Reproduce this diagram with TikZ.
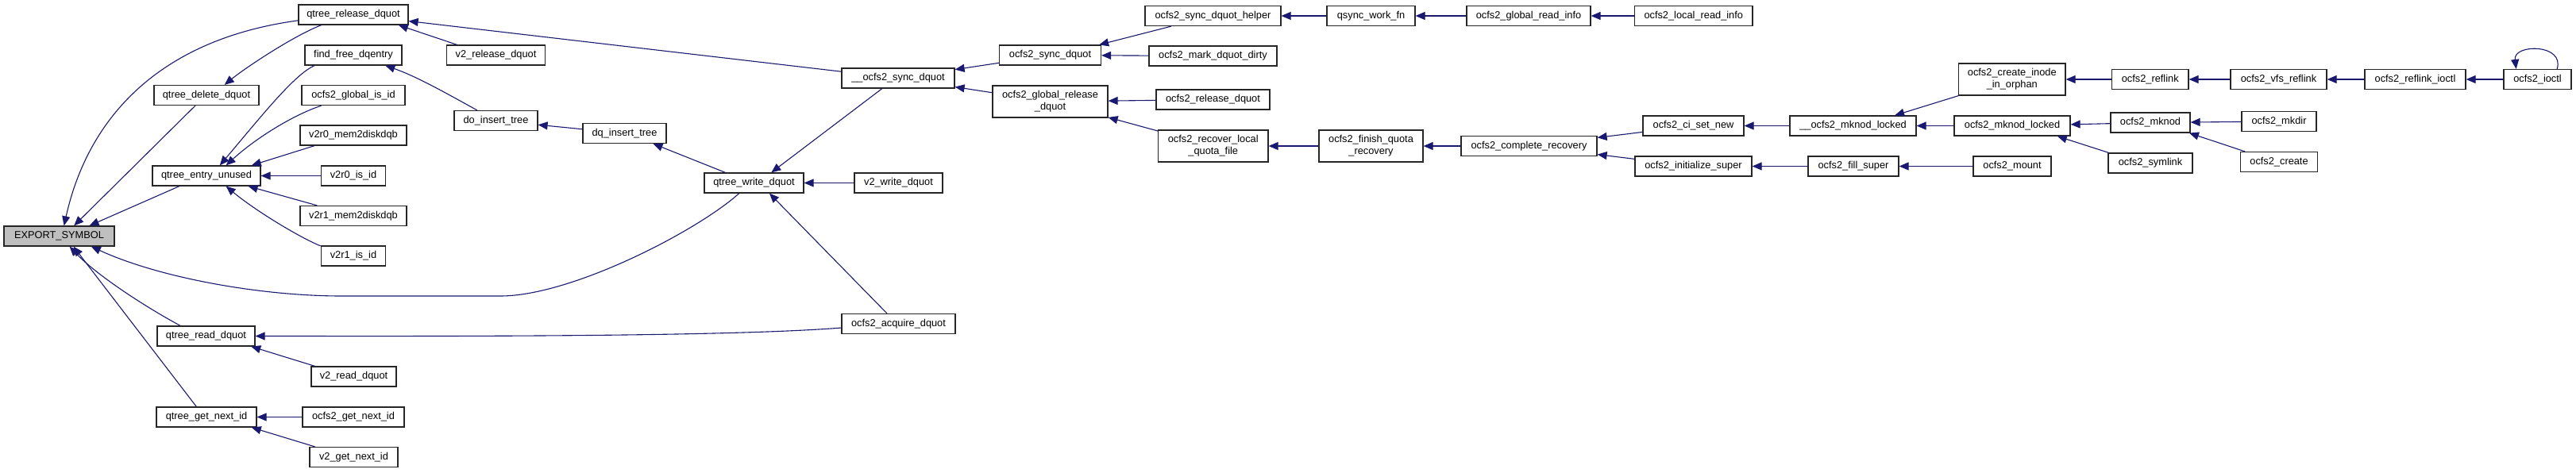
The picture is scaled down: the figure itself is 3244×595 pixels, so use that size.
\documentclass[tikz,border=0pt]{standalone}
\usepackage{fontspec}
\setmainfont{Liberation Sans}
\usetikzlibrary{arrows.meta}
\definecolor{edgeblue}{RGB}{25, 25, 112}
\definecolor{rootfill}{RGB}{191, 191, 191}
\newcommand{\fnfont}{\fontsize{12.8}{15}\selectfont}

\begin{document}
\begin{tikzpicture}[x=1pt, y=-1pt, >={Triangle[length=12pt,width=10pt]},
  fn/.style={draw=black!85, fill=white, line width=1.2pt, inner sep=0pt,
             minimum height=25pt, align=center, font=\fnfont},
  fn2/.style={fn, minimum height=40pt},
  callarr/.style={->, draw=edgeblue, line width=1.1pt},
]
\useasboundingbox (0,0) rectangle (3244,595);

% ── root ─────────────────────────────────────────────────────
\node[fn, fill=rootfill, minimum width=139pt] (expsym) at (74.5,297.5) {EXPORT\_SYMBOL};

% ── qtree_* callers ──────────────────────────────────────────
\node[fn, minimum width=138pt] (qrel)    at (445,18.5)   {qtree\_release\_dquot};
\node[fn, minimum width=132pt] (qdel)    at (260,120)    {qtree\_delete\_dquot};
\node[fn, minimum width=136pt] (qunused) at (260,221.5)  {qtree\_entry\_unused};
\node[fn, minimum width=123pt] (qread)   at (259.5,423.5){qtree\_read\_dquot};
\node[fn, minimum width=126pt] (qnext)   at (260,525.5)  {qtree\_get\_next\_id};

% ── second column ────────────────────────────────────────────
\node[fn, minimum width=122pt]  (findfree) at (445,69.5)   {find\_free\_dqentry};
\node[fn, minimum width=130pt]  (globisid) at (445,120)    {ocfs2\_global\_is\_id};
\node[fn, minimum width=134pt]  (rzmem)    at (445,170.5)  {v2r0\_mem2diskdqb};
\node[fn, minimum width=81.5pt] (rzisid)   at (445,221.5)  {v2r0\_is\_id};
\node[fn, minimum width=134pt]  (romem)    at (445,272)    {v2r1\_mem2diskdqb};
\node[fn, minimum width=81.5pt] (roisid)   at (445,322.5)  {v2r1\_is\_id};
\node[fn, minimum width=107pt]  (vread)    at (445.5,474.5){v2\_read\_dquot};
\node[fn, minimum width=128pt]  (onext)    at (445,525.5)  {ocfs2\_get\_next\_id};
\node[fn, minimum width=111pt]  (vnext)    at (445.5,576)  {v2\_get\_next\_id};

% ── tree insertion / write path ──────────────────────────────
\node[fn, minimum width=124pt] (vrel)    at (624.5,69.5)  {v2\_release\_dquot};
\node[fn, minimum width=105pt] (doins)   at (624.5,152)   {do\_insert\_tree};
\node[fn, minimum width=105pt] (dqins)   at (786.5,168)   {dq\_insert\_tree};
\node[fn, minimum width=125pt] (qwrite)  at (949.5,230.5) {qtree\_write\_dquot};
\node[fn, minimum width=142pt] (isync)   at (1131,98.5)   {\_\_ocfs2\_sync\_dquot};
\node[fn, minimum width=111pt] (vwrite)  at (1131.5,230.5){v2\_write\_dquot};
\node[fn, minimum width=143pt] (acquire) at (1131.5,408)  {ocfs2\_acquire\_dquot};

% ── ocfs2 quota ──────────────────────────────────────────────
\node[fn, minimum width=128pt]    (osync)   at (1322.5,69.5) {ocfs2\_sync\_dquot};
\node[fn2, minimum width=145pt]   (globrel) at (1322.5,128)  {ocfs2\_global\_release\\\_dquot};
\node[fn, minimum width=171pt]    (helper)  at (1527.5,20)   {ocfs2\_sync\_dquot\_helper};
\node[fn, minimum width=161pt]    (dirty)   at (1527.5,70.5) {ocfs2\_mark\_dquot\_dirty};
\node[fn, minimum width=143pt]    (orel)    at (1527.5,125.5){ocfs2\_release\_dquot};
\node[fn2, minimum width=138.5pt] (recover) at (1527.75,184) {ocfs2\_recover\_local\\\_quota\_file};
\node[fn, minimum width=111pt]    (qsync)   at (1726.5,20)   {qsync\_work\_fn};
\node[fn2, minimum width=131pt]   (finish)  at (1726.5,184)  {ocfs2\_finish\_quota\\\_recovery};

% ── recovery / super / inode ─────────────────────────────────
\node[fn, minimum width=156pt]   (greadinfo) at (1925,20)     {ocfs2\_global\_read\_info};
\node[fn, minimum width=171pt]   (complete)  at (1925.5,184)  {ocfs2\_complete\_recovery};
\node[fn, minimum width=148.5pt] (lreadinfo) at (2132.75,20)  {ocfs2\_local\_read\_info};
\node[fn, minimum width=127pt]   (cisetnew)  at (2132.5,158.5){ocfs2\_ci\_set\_new};
\node[fn, minimum width=147pt]   (initsuper) at (2132.5,209.5){ocfs2\_initialize\_super};
\node[fn, minimum width=159pt]   (imknodlk)  at (2333.5,158.5){\_\_ocfs2\_mknod\_locked};
\node[fn, minimum width=114pt]   (fillsuper) at (2334,209.5)  {ocfs2\_fill\_super};
\node[fn2, minimum width=134.5pt](orphan)    at (2533.75,100) {ocfs2\_create\_inode\\\_in\_orphan};
\node[fn, minimum width=146pt]   (mknodlk)   at (2534,158.5)  {ocfs2\_mknod\_locked};
\node[fn, minimum width=98pt]    (mount)     at (2534,209.5)  {ocfs2\_mount};

% ── reflink / mknod entry points ─────────────────────────────
\node[fn, minimum width=96.6pt] (reflink)    at (2707.7,100) {ocfs2\_reflink};
\node[fn, minimum width=100pt]  (mknod)      at (2708,154.5) {ocfs2\_mknod};
\node[fn, minimum width=106pt]  (symlink)    at (2708,205.5) {ocfs2\_symlink};
\node[fn, minimum width=121pt]  (vfsreflink) at (2869.5,100) {ocfs2\_vfs\_reflink};
\node[fn, minimum width=94pt]   (mkdir)      at (2870,153)   {ocfs2\_mkdir};
\node[fn, minimum width=97.5pt] (create)     at (2870,204)   {ocfs2\_create};
\node[fn, minimum width=127pt]  (reflioctl)  at (3041.5,100) {ocfs2\_reflink\_ioctl};
\node[fn, minimum width=85pt]   (ioctl)      at (3195.5,100) {ocfs2\_ioctl};

% ── calls into EXPORT_SYMBOL ─────────────────────────────────
\draw[callarr] (qrel.186) .. controls +(-176,24) and +(30,-135) .. (expsym.65);
\draw[callarr] (qdel.223) -- (expsym.35);
\draw[callarr] (qunused.201) -- (expsym.19);
\draw[callarr] (qwrite.215) .. controls +(-52,47) and +(90,0) .. (630,373)
  -- (430,373) .. controls +(-100,0) and +(87,40) .. (expsym.-18);
\draw[callarr] (qread.158) .. controls +(-48,-26) and +(33,35) .. (expsym.-45);
\draw[callarr] (qnext.134) -- (expsym.-36);

% ── qtree_* callers ──────────────────────────────────────────
\draw[callarr] (vrel.165) -- (qrel.-13);
\draw[callarr] (isync) -- (qrel);
\draw[callarr] (qrel.198) .. controls +(-34,13) and +(27,-22) .. (qdel.30);
\draw[callarr] (findfree.195) .. controls +(-25,11) and +(54,-64) .. (qunused.38);
\draw[callarr] (globisid.198) .. controls +(-36,12) and +(37,-34) .. (qunused.28);
\draw[callarr] (rzmem.195) -- (qunused.13);
\draw[callarr] (rzisid) -- (qunused);
\draw[callarr] (romem.164) -- (qunused.-14);
\draw[callarr] (roisid.163) .. controls +(-25,-10) and +(37,31) .. (qunused.-28);
\draw[callarr] (doins.151) .. controls +(-40,-22) and +(40,14) .. (findfree.-18);
\draw[callarr] (dqins) -- (doins);
\draw[callarr] (qwrite.160) -- (dqins.-20);
\draw[callarr] (isync.213) -- (qwrite.31);
\draw[callarr] (vwrite) -- (qwrite);
\draw[callarr] (acquire.138) -- (qwrite.-34);
\draw[callarr] (acquire.184) .. controls +(-150,12) and +(200,0) .. (qread.east);
\draw[callarr] (vread.165) -- (qread.-13);
\draw[callarr] (onext) -- (qnext);
\draw[callarr] (vnext.165) -- (qnext.-13);

% ── ocfs2 side ───────────────────────────────────────────────
\draw[callarr] (osync) -- (isync);
\draw[callarr] (globrel) -- (isync);
\draw[callarr] (helper.194) -- (osync.12);
\draw[callarr] (dirty) -- (osync);
\draw[callarr] (orel) -- (globrel);
\draw[callarr] (recover) -- (globrel);
\draw[callarr] (qsync) -- (helper);
\draw[callarr] (greadinfo) -- (qsync);
\draw[callarr] (lreadinfo) -- (greadinfo);
\draw[callarr] (finish) -- (recover);
\draw[callarr] (complete) -- (finish);
\draw[callarr] (cisetnew) -- (complete);
\draw[callarr] (initsuper) -- (complete);
\draw[callarr] (imknodlk) -- (cisetnew);
\draw[callarr] (fillsuper) -- (initsuper);
\draw[callarr] (mount) -- (fillsuper);
\draw[callarr] (orphan.197) -- (imknodlk.14);
\draw[callarr] (mknodlk) -- (imknodlk);
\draw[callarr] (reflink) -- (orphan);
\draw[callarr] (vfsreflink) -- (reflink);
\draw[callarr] (reflioctl) -- (vfsreflink);
\draw[callarr] (ioctl) -- (reflioctl);
\draw[callarr] (ioctl.28) .. controls +(10,-32) and +(-4,-32) .. (ioctl.154);
\draw[callarr] (mknod) -- (mknodlk);
\draw[callarr] (symlink.166) -- (mknodlk.-13);
\draw[callarr] (mkdir) -- (mknod);
\draw[callarr] (create.163) -- (mknod.-15);

\end{tikzpicture}
\end{document}
